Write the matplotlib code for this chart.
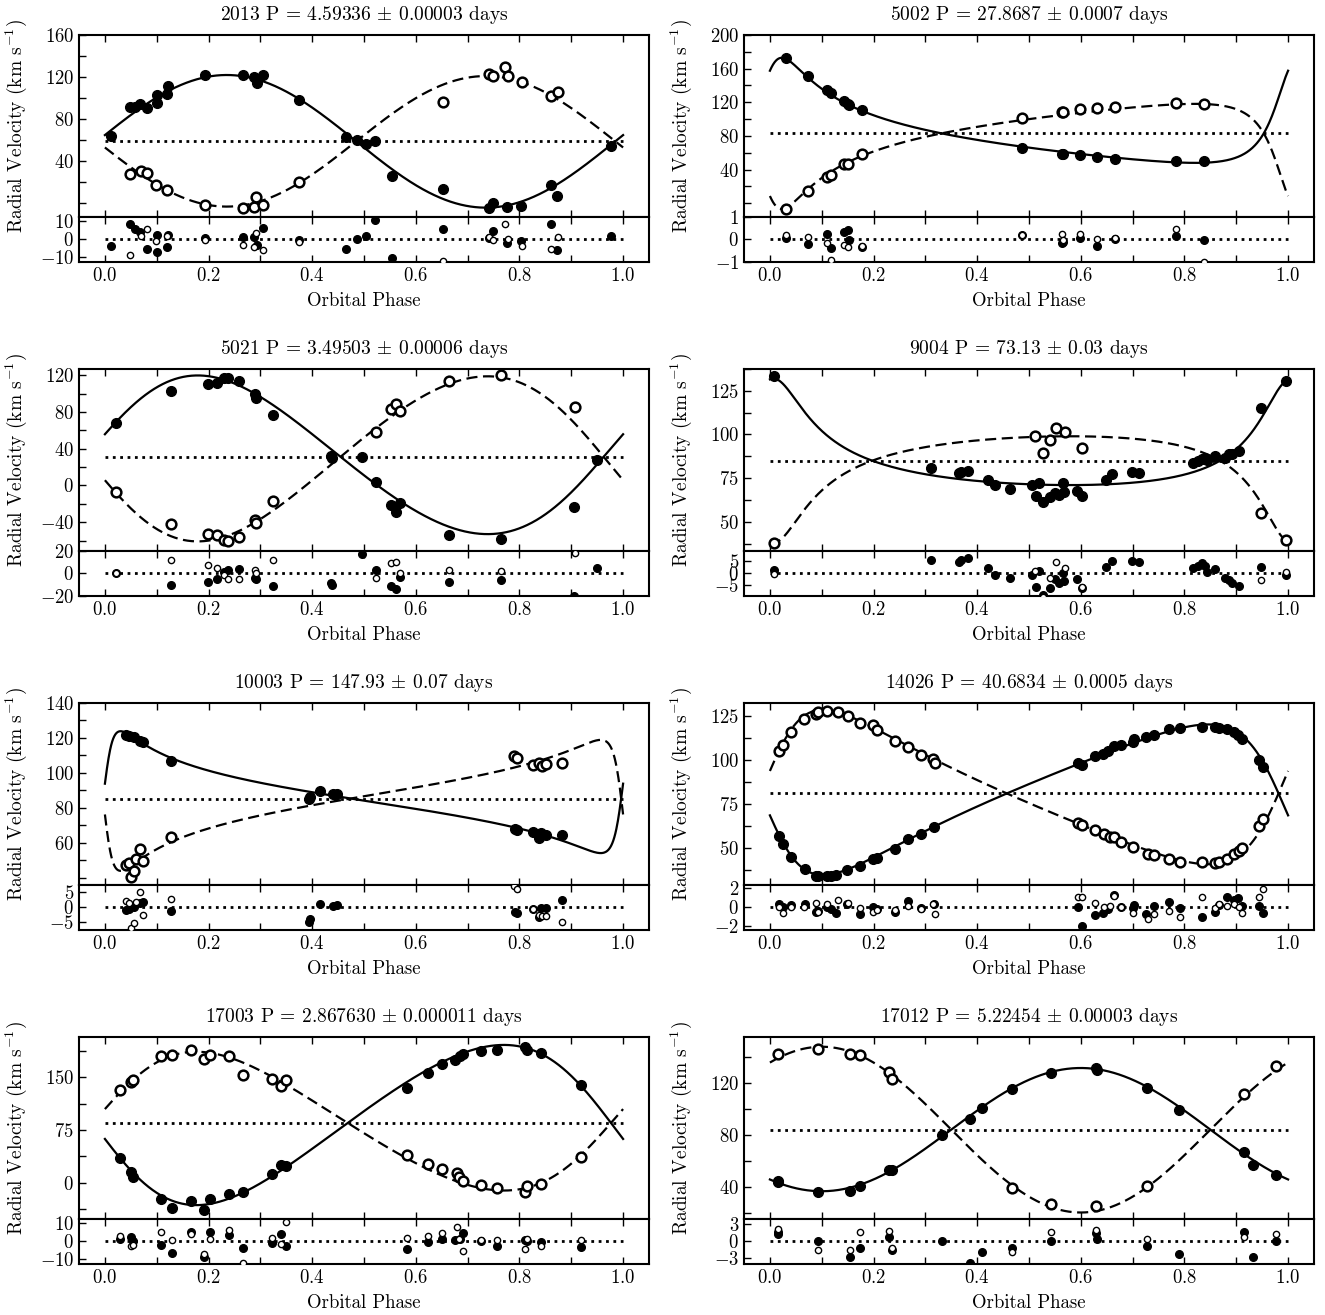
import numpy as np
import matplotlib
matplotlib.use('Agg')
import matplotlib.pyplot as plt
from matplotlib.ticker import MultipleLocator

plt.rcParams['font.family'] = 'serif'
plt.rcParams['font.serif'] = ['cmr10']
plt.rcParams['mathtext.fontset'] = 'cm'
plt.rcParams['axes.formatter.use_mathtext'] = True

# ---- orbital solutions -------------------------------------------------
names       = ['2013', '5002', '5021', '9004', '10003', '14026', '17003', '17012']
periods     = ['4.59336', '27.8687', '3.49503', '73.13', '147.93', '40.6834', '2.867630', '5.22454']
period_errs = ['0.00003', '0.0007', '0.00006', '0.03', '0.07', '0.0005', '0.000011', '0.00003']
gammas      = [59.0, 83.0, 31.3, 85.0, 85.3, 81.2, 84.9, 84.1]
k1s         = [63.0, 62.5, 86.5, 30.5, 34.9, 42.7, 113.8, 47.5]
k2s         = [62.0, 62.5, 90.0, 30.5, 37.5, 43.8, 98.6, 63.9]
eccs        = [0.0, 0.62, 0.097, 0.55, 0.75, 0.40, 0.15, 0.0]
omegas      = [275.4, 315.0, 285.0, 350.0, 278.0, 102.0, 100.0, 144.0]
tperis      = [0.0, -0.002, 0.0, 0.0, 0.0, 0.0, 0.0, 0.0]

# ---- measured velocities: primary (p, filled) and secondary (s, open) ---
ph_2013_p = [0.011, 0.049, 0.059, 0.067, 0.082, 0.100, 0.101, 0.120, 0.122, 0.193, 0.267, 0.287, 0.293, 0.306,
             0.375, 0.465, 0.487, 0.504, 0.522, 0.554, 0.653, 0.742, 0.749, 0.775, 0.803, 0.860, 0.873, 0.976]
rv_2013_p = [63.8, 91.7, 91.7, 94.3, 90.2, 102.9, 95.0, 103.5, 111.4, 121.9, 121.9, 120.3, 114.6, 121.9,
             98.1, 63.2, 60.0, 56.2, 59.4, 26.0, 14.0, -4.1, 0.3, -3.5, -2.9, 17.8, 7.3, 54.6]
res_2013_p = [-3.6, 8.2, 5.8, 4.2, -5.5, 2.4, -6.9, -4.5, 2.2, 0.5, 1.5, 1.5, -3.1, 6.4,
              -0.5, -5.5, 0.0, 1.8, 10.9, -10.5, 5.5, 0.5, 4.5, -1.8, -0.9, 8.2, -6.0, 1.6]
ph_2013_s = [0.049, 0.069, 0.081, 0.098, 0.120, 0.193, 0.267, 0.287, 0.292, 0.306, 0.375, 0.653, 0.742,
             0.749, 0.773, 0.777, 0.804, 0.860, 0.875]
rv_2013_s = [27.6, 30.8, 29.2, 17.1, 13.0, -1.9, -4.1, -3.5, 5.7, -1.6, 20.3, 96.5, 122.9,
             121.0, 129.9, 121.0, 114.9, 101.9, 106.0]
res_2013_s = [-8.5, 1.8, 5.5, -0.9, 1.8, -0.5, -3.1, -4.5, 3.6, -6.0, -1.3, -11.8, 1.3,
              -0.5, 8.5, 0.0, -3.6, -5.5, 1.3]

ph_5002_p = [0.031, 0.073, 0.110, 0.117, 0.143, 0.150, 0.152, 0.178, 0.486, 0.563, 0.566, 0.598, 0.631,
             0.666, 0.784, 0.837]
rv_5002_p = [172.8, 151.6, 134.8, 130.8, 121.6, 118.0, 117.0, 110.8, 65.6, 58.8, 58.0, 57.2, 54.8,
             52.8, 50.0, 50.0]
res_5002_p = [0.04, -0.22, 0.22, -0.40, 0.34, 0.40, -0.04, -0.34, 0.19, -0.15, -0.10, 0.07, -0.30,
              0.03, 0.15, -0.03]
ph_5002_s = [0.031, 0.073, 0.110, 0.117, 0.143, 0.150, 0.178, 0.486, 0.563, 0.566, 0.598, 0.631, 0.666,
             0.784, 0.837]
rv_5002_s = [-7.2, 14.0, 31.6, 34.0, 46.0, 46.8, 58.0, 100.8, 108.8, 108.0, 111.6, 113.6, 114.8,
             119.6, 117.6]
res_5002_s = [0.18, 0.10, -0.18, -0.90, -0.25, -0.34, -0.30, 0.20, 0.25, -0.04, 0.25, 0.00, 0.07,
              0.45, -1.00]

ph_5021_p = [0.022, 0.127, 0.198, 0.216, 0.229, 0.238, 0.259, 0.290, 0.291, 0.324, 0.437, 0.438, 0.496,
             0.524, 0.553, 0.561, 0.569, 0.664, 0.765, 0.906, 0.950]
rv_5021_p = [68.2, 102.5, 110.6, 111.7, 117.2, 117.2, 113.6, 99.9, 95.9, 76.7, 31.7, 29.9, 30.6,
             3.7, -21.0, -28.4, -19.2, -53.5, -57.9, -24.0, 27.7]
res_5021_p = [0.0, -10.5, -7.5, -5.4, 1.5, 3.0, 4.2, -3.9, -5.4, -11.4, -8.4, -10.5, 16.6,
              3.0, -10.8, -13.8, -3.3, -7.8, -6.0, -19.9, 5.1]
ph_5021_s = [0.022, 0.127, 0.198, 0.216, 0.229, 0.238, 0.259, 0.290, 0.291, 0.324, 0.524, 0.553, 0.561,
             0.569, 0.664, 0.765, 0.908]
rv_5021_s = [-7.4, -42.4, -53.1, -53.5, -59.0, -60.5, -56.0, -37.6, -41.3, -17.3, 58.3, 83.3, 88.5,
             81.1, 114.3, 120.9, 85.2]
res_5021_s = [0.6, 11.7, 7.2, 4.5, -1.8, -4.8, -4.8, 3.0, 0.0, 11.7, -3.9, 9.0, 10.2,
              0.0, 3.0, 2.1, 17.8]

ph_9004_p = [0.008, 0.311, 0.364, 0.369, 0.383, 0.421, 0.435, 0.463, 0.505, 0.514, 0.519, 0.527, 0.541,
             0.551, 0.557, 0.565, 0.568, 0.593, 0.602, 0.648, 0.660, 0.699, 0.713, 0.816, 0.826, 0.833,
             0.839, 0.844, 0.858, 0.878, 0.886, 0.891, 0.905, 0.948, 0.995]
rv_9004_p = [133.3, 80.8, 77.9, 78.5, 79.0, 74.2, 70.8, 68.8, 70.8, 65.0, 72.1, 61.2, 64.4,
             66.3, 65.6, 72.1, 66.9, 67.9, 65.0, 74.2, 77.5, 78.5, 77.9, 83.7, 84.8, 86.2,
             86.5, 85.2, 87.5, 86.5, 89.0, 88.6, 90.6, 115.0, 130.4]
res_9004_p = [1.4, 5.6, 4.9, 5.5, 6.2, 2.4, -0.7, -2.1, -0.7, -5.8, 1.0, -8.9, -6.1,
              -2.5, -3.9, 0.0, -3.2, -2.5, -6.0, 2.8, 5.2, 5.2, 4.8, 2.4, 3.1, 4.2,
              3.1, 0.7, 1.7, -1.8, -3.0, -3.9, -5.4, 2.7, -0.7]
ph_9004_s = [0.008, 0.512, 0.527, 0.541, 0.553, 0.570, 0.602, 0.948, 0.995]
rv_9004_s = [38.1, 99.4, 89.4, 97.1, 103.5, 101.5, 92.5, 54.8, 39.4]
res_9004_s = [-0.4, 1.0, -10.0, -1.8, 4.9, 2.4, -5.8, -2.8, 0.7]

ph_10003_p = [0.040, 0.047, 0.057, 0.067, 0.073, 0.127, 0.393, 0.396, 0.416, 0.440, 0.447, 0.791, 0.795,
              0.826, 0.838, 0.842, 0.852, 0.883]
rv_10003_p = [121.8, 121.0, 120.8, 118.5, 117.5, 107.0, 85.3, 86.3, 89.7, 87.8, 87.8, 68.1, 67.3,
              66.3, 62.9, 65.8, 64.4, 64.4]
res_10003_p = [-0.9, -0.7, 0.2, 1.3, 1.6, -1.2, -4.9, -3.9, 1.1, 0.4, 0.7, -1.7, -2.0,
               -0.7, -3.3, -0.3, -0.3, 2.4]
ph_10003_s = [0.040, 0.047, 0.051, 0.057, 0.060, 0.067, 0.073, 0.127, 0.789, 0.795, 0.826, 0.838, 0.844,
              0.852, 0.883]
rv_10003_s = [47.1, 48.5, 40.4, 43.7, 50.8, 56.5, 49.4, 63.3, 109.9, 108.5, 104.7, 105.6, 103.7,
              105.1, 105.6]
res_10003_s = [2.1, 1.5, -6.8, -5.2, 1.8, 5.1, -2.5, 2.6, 7.0, 5.9, -0.7, -2.5, -2.8,
               -2.8, -5.0]

ph_14026_p = [0.018, 0.026, 0.041, 0.068, 0.088, 0.092, 0.111, 0.117, 0.128, 0.148, 0.174, 0.199, 0.206,
              0.241, 0.267, 0.292, 0.317, 0.594, 0.602, 0.627, 0.642, 0.652, 0.664, 0.677, 0.700, 0.703,
              0.726, 0.742, 0.771, 0.792, 0.833, 0.858, 0.866, 0.883, 0.895, 0.903, 0.911, 0.944, 0.952]
rv_14026_p = [57.0, 52.3, 45.2, 38.4, 34.6, 34.2, 34.6, 34.6, 35.1, 37.6, 39.9, 44.1, 44.7,
              49.8, 55.1, 58.0, 62.4, 98.4, 97.4, 102.4, 103.7, 105.0, 108.1, 108.5, 110.4, 111.9,
              113.2, 114.5, 117.6, 118.4, 118.9, 118.9, 118.5, 117.6, 116.1, 114.5, 112.3, 99.9, 96.1]
res_14026_p = [0.35, 0.0, 0.24, 0.3, -0.5, -0.35, 0.0, -0.2, -0.6, 0.35, -0.7, 0.0, -0.2,
               -0.45, 0.7, -0.1, 0.35, 0.0, -2.0, -0.8, -0.55, -0.2, 1.3, 0.0, -0.1, 0.25,
               -0.7, 0.15, 0.6, -0.1, -1.05, -0.45, 0.25, 1.05, 0.75, 1.0, 0.15, 0.15, -0.55]
ph_14026_s = [0.018, 0.026, 0.041, 0.066, 0.088, 0.092, 0.111, 0.132, 0.150, 0.174, 0.199, 0.207, 0.241,
              0.267, 0.292, 0.314, 0.319, 0.594, 0.602, 0.627, 0.644, 0.656, 0.664, 0.677, 0.701, 0.730,
              0.742, 0.771, 0.792, 0.833, 0.858, 0.866, 0.883, 0.895, 0.905, 0.911, 0.944, 0.952]
rv_14026_s = [105.0, 108.5, 116.1, 123.7, 126.5, 127.5, 127.9, 127.5, 125.2, 121.4, 120.3, 117.0, 110.7,
              107.5, 103.1, 100.5, 98.4, 64.7, 63.1, 60.3, 58.0, 56.5, 56.5, 53.6, 50.8, 47.1,
              46.2, 44.1, 42.2, 42.4, 41.8, 42.2, 44.3, 46.6, 48.5, 50.4, 62.8, 66.9]
res_14026_s = [0.07, -0.55, 0.0, 0.0, 0.5, -0.45, 0.35, 0.75, 0.5, -0.1, -0.5, -0.3, -0.3,
               0.15, -0.2, 0.35, -0.75, 1.1, 1.1, 0.5, 0.0, 0.15, 1.2, 0.07, -0.6, -1.2,
               -0.7, -0.4, -1.0, 1.05, -0.1, 0.35, 0.15, 0.4, 0.0, -0.6, 1.1, 1.9]

ph_17003_p = [0.029, 0.051, 0.055, 0.108, 0.130, 0.167, 0.192, 0.203, 0.239, 0.267, 0.322, 0.339, 0.349,
              0.583, 0.624, 0.651, 0.675, 0.686, 0.691, 0.726, 0.757, 0.810, 0.814, 0.842, 0.918]
rv_17003_p = [35.4, 14.6, 8.5, -23.6, -35.4, -25.9, -38.7, -23.1, -16.0, -13.7, 12.3, 25.0, 23.6,
              134.9, 156.1, 168.9, 175.0, 179.7, 183.0, 187.7, 189.1, 193.4, 189.1, 184.4, 139.2]
res_17003_p = [1.3, 2.2, 0.0, -2.0, -6.4, 5.3, -8.7, 5.3, 3.5, -3.6, -1.1, 4.0, -2.4,
               -4.5, -0.2, 1.3, 0.7, 1.3, 4.5, 0.0, -2.7, 0.9, 0.0, -0.5, -3.3]
ph_17003_s = [0.029, 0.051, 0.055, 0.108, 0.130, 0.167, 0.192, 0.203, 0.239, 0.267, 0.322, 0.339, 0.349,
              0.583, 0.624, 0.651, 0.679, 0.683, 0.691, 0.726, 0.757, 0.810, 0.814, 0.842, 0.918]
rv_17003_s = [132.1, 142.9, 145.3, 180.7, 181.6, 188.7, 175.9, 182.1, 179.7, 153.3, 147.6, 136.8, 145.3,
              39.2, 26.4, 18.9, 14.2, 7.5, 2.8, -3.3, -7.1, -12.7, -4.7, -2.4, 36.8]
res_17003_s = [3.1, -2.7, -2.0, 4.9, 0.7, 4.0, -6.9, 1.1, 6.2, -12.0, 2.0, -1.5, 10.4,
               1.6, 3.1, 4.5, 7.6, 1.3, -5.6, 0.5, 0.5, -4.5, 1.3, -2.4, 0.9]

ph_17012_p = [0.016, 0.016, 0.092, 0.154, 0.174, 0.230, 0.236, 0.333, 0.386, 0.409, 0.467, 0.542, 0.629,
              0.631, 0.728, 0.789, 0.915, 0.932, 0.977]
rv_17012_p = [43.9, 44.5, 36.1, 36.9, 40.8, 53.2, 53.2, 80.2, 91.9, 100.6, 115.1, 127.7, 131.6,
              129.8, 116.1, 99.3, 66.6, 57.0, 49.0]
res_17012_p = [1.6, 1.2, 0.0, -2.7, -1.1, 0.8, -1.5, 0.0, -3.9, -1.8, -1.2, 0.0, 1.4,
               0.4, -0.9, -2.2, 1.6, -2.8, 0.0]
ph_17012_s = [0.016, 0.092, 0.154, 0.174, 0.230, 0.236, 0.467, 0.542, 0.629, 0.728, 0.915, 0.977]
rv_17012_s = [142.7, 146.6, 142.2, 141.9, 128.5, 122.8, 39.0, 27.1, 25.3, 40.8, 111.7, 133.1]
res_17012_s = [2.2, -1.5, -1.5, 1.7, 1.9, -1.1, -1.8, 1.6, 2.0, 0.4, 0.8, 1.2]

# ---- axis ranges and ticks ---------------------------------------------
rv_limits   = [(-12.5, 160), (-16, 200), (-71, 127), (33.5, 137.5), (36, 140), (29.5, 132.5), (-51, 207), (15.5, 155.5)]
rv_ticks    = [[40, 80, 120, 160], [40, 80, 120, 160, 200], [-40, 0, 40, 80, 120], [50, 75, 100, 125],
               [60, 80, 100, 120, 140], [50, 75, 100, 125], [0, 75, 150], [40, 80, 120]]
rv_minor    = [20, 20, 20, 12.5, 10, 12.5, 37.5, 20]
res_limits  = [12.5, 1.0, 20, 9.5, 7.5, 2.4, 12.5, 4.0]
res_ticks   = [[-10, 0, 10], [-1, 0, 1], [-20, 0, 20], [-5, 0, 5], [-5, 0, 5], [-2, 0, 2], [-10, 0, 10], [-3, 0, 3]]

primary = [(ph_2013_p, rv_2013_p, res_2013_p), (ph_5002_p, rv_5002_p, res_5002_p),
           (ph_5021_p, rv_5021_p, res_5021_p), (ph_9004_p, rv_9004_p, res_9004_p),
           (ph_10003_p, rv_10003_p, res_10003_p), (ph_14026_p, rv_14026_p, res_14026_p),
           (ph_17003_p, rv_17003_p, res_17003_p), (ph_17012_p, rv_17012_p, res_17012_p)]
secondary = [(ph_2013_s, rv_2013_s, res_2013_s), (ph_5002_s, rv_5002_s, res_5002_s),
             (ph_5021_s, rv_5021_s, res_5021_s), (ph_9004_s, rv_9004_s, res_9004_s),
             (ph_10003_s, rv_10003_s, res_10003_s), (ph_14026_s, rv_14026_s, res_14026_s),
             (ph_17003_s, rv_17003_s, res_17003_s), (ph_17012_s, rv_17012_s, res_17012_s)]


def orbit_curves(phase, gam, k1, k2, ecc, omega, tperi):
    # solve Kepler's equation and return both velocity curves
    M = 2 * np.pi * (phase - tperi)
    E = M + ecc * np.sin(M)
    for _ in range(100):
        E = E - (E - ecc * np.sin(E) - M) / (1 - ecc * np.cos(E))
    nu = 2 * np.arctan2(np.sqrt(1 + ecc) * np.sin(E / 2), np.sqrt(1 - ecc) * np.cos(E / 2))
    w = np.radians(omega)
    shape = np.cos(nu + w) + ecc * np.cos(w)
    return gam + k1 * shape, gam - k2 * shape


W, H = 1325.0, 1315.0
colLeft = [79, 744]
rowTop = [35, 369, 703, 1037]
axW = 570.0
mainH = 181.6
resH = 45.4

fig = plt.figure(figsize=(W / 100, H / 100), dpi=100)
phase = np.linspace(0, 1, 1000)

for i in range(len(names)):
    col = i % 2
    row = i // 2
    x0 = colLeft[col] / W
    top = rowTop[row]
    axMain = fig.add_axes([x0, 1 - (top + mainH) / H, axW / W, mainH / H])
    axRes = fig.add_axes([x0, 1 - (top + mainH + resH) / H, axW / W, resH / H], sharex=axMain)

    v1, v2 = orbit_curves(phase, gammas[i], k1s[i], k2s[i], eccs[i], omegas[i], tperis[i])
    axMain.plot(phase, v1, '-', color='k', lw=1.6)
    axMain.plot(phase, v2, color='k', lw=1.6, linestyle=(0, (5, 2.5)))
    axMain.plot([0, 1], [gammas[i], gammas[i]], color='k', lw=2, linestyle=':')

    ph, rv, res = primary[i]
    axMain.plot(ph, rv, 'o', color='k', ms=7, zorder=3)
    axRes.plot(ph, res, 'o', color='k', ms=5.5, zorder=3)
    ph, rv, res = secondary[i]
    axMain.plot(ph, rv, 'o', mfc='white', mec='k', mew=1.8, ms=7, zorder=3)
    axRes.plot(ph, res, 'o', mfc='white', mec='k', mew=1.0, ms=4.5, zorder=3)
    axRes.plot([0, 1], [0, 0], color='k', lw=2, linestyle=':')

    axMain.set_xlim(-0.05, 1.05)
    axMain.set_ylim(rv_limits[i])
    axMain.set_yticks(rv_ticks[i])
    axMain.yaxis.set_minor_locator(MultipleLocator(rv_minor[i]))
    axMain.xaxis.set_major_locator(MultipleLocator(0.2))
    axMain.xaxis.set_minor_locator(MultipleLocator(0.1))
    axRes.set_ylim(-res_limits[i], res_limits[i])
    axRes.set_yticks(res_ticks[i])

    for ax in (axMain, axRes):
        ax.tick_params(which='both', direction='in', top=True, bottom=True, left=True, right=False,
                       length=5, width=1.0, labelsize=13.5)
        for sp in ax.spines.values():
            sp.set_linewidth(1.5)
    axMain.tick_params(labelbottom=False)

    axMain.set_title(names[i] + ' P = ' + periods[i] + r' $\pm$ ' + period_errs[i] + ' days',
                     fontsize=14, pad=11)
    axMain.set_ylabel(r'Radial Velocity (km s$^{-1}$)', fontsize=14)
    axRes.set_xlabel('Orbital Phase', fontsize=13.5, labelpad=5)
    axMain.yaxis.set_label_coords(-0.088, 0.5)

fig.savefig('out.png', dpi=100)
